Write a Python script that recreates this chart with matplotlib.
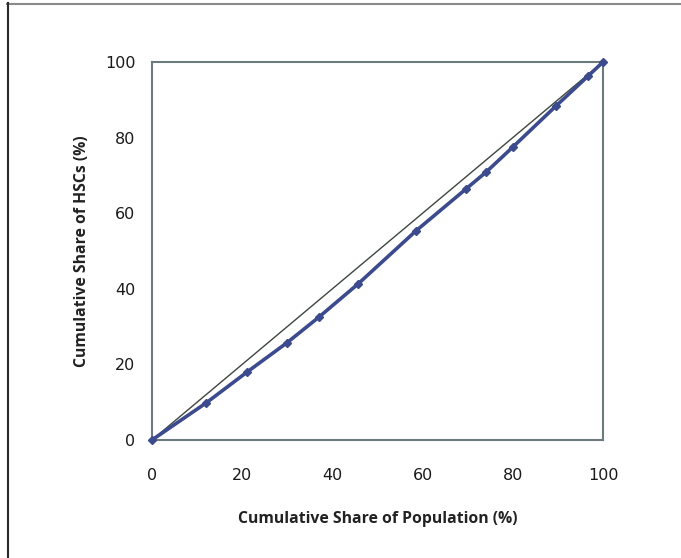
import matplotlib
matplotlib.use("Agg")
import matplotlib.pyplot as plt
from matplotlib.lines import Line2D

# cumulative share of population (%) vs cumulative share of HSCs (%)
pop_share = [0, 12.0, 21.1, 29.9, 37.0, 45.7, 58.5, 69.6, 74.1, 80.0, 89.6, 96.7, 100]
hsc_share = [0, 9.8, 18.0, 25.7, 32.5, 41.3, 55.3, 66.4, 70.9, 77.5, 88.4, 96.3, 100]
equality = [0, 100]
ticks = [0, 20, 40, 60, 80, 100]

fig = plt.figure(figsize=(6.81, 5.58), dpi=100)
ax = fig.add_axes([0.2232, 0.2115, 0.6623, 0.6774])

ax.plot(equality, equality, color='#3d463f', linewidth=1.0, zorder=2)
ax.plot(pop_share, hsc_share, color='#3c4a8e', linewidth=2.6, marker='D',
        markersize=4.5, markerfacecolor='#3c4a8e', markeredgecolor='#3c4a8e',
        zorder=3, clip_on=False)

ax.set_xlim(0, 100)
ax.set_ylim(0, 100)
ax.set_xticks(ticks)
ax.set_yticks(ticks)
ax.tick_params(length=0, labelsize=11.5, colors='#1a1a1a')
ax.tick_params(axis='x', pad=20)
ax.tick_params(axis='y', pad=12)
for s in ax.spines.values():
    s.set_color('#6d7a7d')
    s.set_linewidth(1.5)

ax.set_xlabel('Cumulative Share of Population (%)', fontsize=11.3, fontweight='bold',
              family='Open Sans', labelpad=20, color='#222222')
ax.set_ylabel('Cumulative Share of HSCs (%)', fontsize=11.3, fontweight='bold',
              family='Open Sans', labelpad=11, color='#222222')

# outer frame lines (top and left only)
fig.add_artist(Line2D([7 / 681, 1], [1 - 3.5 / 558, 1 - 3.5 / 558],
                      transform=fig.transFigure, color='#8a8a8a', linewidth=1.5))
fig.add_artist(Line2D([7.5 / 681, 7.5 / 681], [0, 1 - 3 / 558],
                      transform=fig.transFigure, color='#2a2a2a', linewidth=1.5))

fig.savefig('out.png', dpi=100)
